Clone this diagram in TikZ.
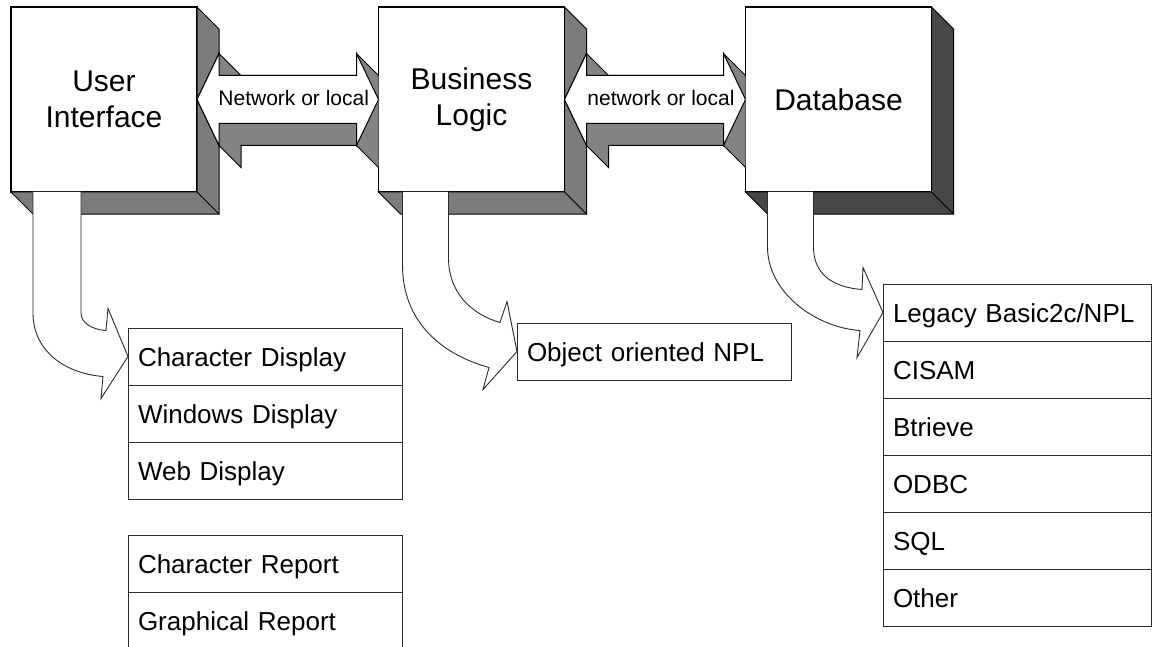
\documentclass[tikz,border=0pt]{standalone}
\usepackage{fontspec}
\setmainfont{Liberation Sans}
\usetikzlibrary{calc,positioning}
\definecolor{shade}{HTML}{7C7C7C}
\definecolor{darkshade}{HTML}{474747}
\definecolor{linkshade}{HTML}{838383}
\definecolor{ink}{HTML}{2B2B2B}
\tikzset{
    every picture/.style={line join=miter},
    tierbox/.style={draw=black,fill=white,line width=1.1pt,
      minimum width=186pt,minimum height=185pt,inner sep=0pt,outer sep=0pt,
      align=center,font=\fontsize{30}{36}\selectfont},
    depth/.style={draw=black,fill=shade,line width=1pt},
    linkface/.style={draw=black,fill=white,line width=1pt},
    linklabel/.style={inner sep=0pt,font=\fontsize{21}{24}\selectfont},
    listrow/.style={draw=ink,fill=white,line width=0.9pt,text width=#1,
      inner xsep=10pt,inner ysep=0pt,outer sep=0pt,minimum height=57pt,
      text height=19pt,text depth=0pt,align=left,
      font=\fontsize{26}{30}\selectfont},
    listrow/.default=254pt,
    bentarrow/.style={draw=ink,fill=white,line width=0.9pt}
}
\begin{document}
\begin{tikzpicture}[x=1pt,y=-1pt]
  \useasboundingbox (0,0) rectangle (1153,647);
  % the three tiers, each with its block shadow
  \node[tierbox] (ui) at (104,99.5) {User\\Interface};
  \node[tierbox] (bl) at (471.5,99.5) {Business\\Logic};
  \node[tierbox] (db) at (838.5,99.5) {Database};
  \foreach \n/\c in {ui/shade,bl/shade,db/darkshade}{
    \filldraw[depth,fill=\c] (\n.north east) -- ++(22,22)
      -- ([shift={(22,22)}]\n.south east) -- ([shift={(22,22)}]\n.south west)
      -- (\n.south west) -- (\n.south east) -- cycle;
    \draw[line width=1pt] (\n.south east) -- ++(22,22);}

  % two-way links, cut off where the next tier starts
  \foreach \a/\b/\t in {ui/bl/Network or local,bl/db/network or local}{
    \begin{scope}
      \clip ([xshift=-1pt]\a.north east) rectangle (\b.south west);
      \filldraw[depth,fill=linkshade] let \p1=(\a.east), \p2=(\b.west) in
        (\x1,\y1) -- (\x1+22pt,\y1+46pt) -- (\x1+44pt,\y1+24pt)
        -- (\x2-22pt,\y1+24pt) -- (\x2-22pt,\y1+46pt) -- (\x2,\y1+24pt)
        -- (\x2+22pt,\y1-22pt) -- (\x2,\y1-68pt) -- (\x2-22pt,\y1-46pt)
        -- (\x1+44pt,\y1-46pt) -- (\x1+44pt,\y1-68pt) -- (\x1+22pt,\y1-46pt) -- cycle;
      \filldraw[linkface] let \p1=(\a.east), \p2=(\b.west) in
        (\x1,\y1) -- (\x1+22pt,\y1+46pt) -- (\x1+22pt,\y1+24pt)
        -- (\x2-22pt,\y1+24pt) -- (\x2-22pt,\y1+46pt) -- (\x2,\y1)
        -- (\x2-22pt,\y1-46pt) -- (\x2-22pt,\y1-24pt)
        -- (\x1+22pt,\y1-24pt) -- (\x1+22pt,\y1-46pt) -- cycle;
    \end{scope}
    \node[linklabel] at ($(\a.east)!0.5!(\b.west)+(6,-2)$) {\t};}

  % what each tier can be
  \foreach \t [count=\i] in {Character Display,Windows Display,Web Display}
    \node[listrow] (ui\i) at (265,299.5+57*\i) {\t};
  \foreach \t [count=\i] in {Character Report,Graphical Report}
    \node[listrow] (rep\i) at (265,506.5+57*\i) {\t};
  \node[listrow] (bl1) at (654,351.5) {Object oriented NPL};
  \foreach \t [count=\i] in {Legacy Basic2c/NPL,CISAM,Btrieve,ODBC,SQL,Other}
    \node[listrow=248pt] (db\i) at (1017,255.5+57*\i) {\t};

  % bent arrows from each tier down to its list
  \filldraw[bentarrow] ([xshift=22pt]ui.south west) -- ++(0,121)
    .. controls +(0,38) and +(-38,-3) .. ($(ui1.west)+(-25,20)$)
    -- ($(ui1.west)+(-27,42)$) -- (ui1.west) -- ($(ui1.west)+(-20,-48)$)
    -- ($(ui1.west)+(-22,-26)$)
    .. controls +(-14,-1) and +(0,10) .. ($(ui.south west)+(70,121)$)
    -- ([xshift=70pt]ui.south west);
  \filldraw[bentarrow] ([xshift=24pt]bl.south west) -- ++(0,73)
    .. controls +(0,55) and +(-50,-14) .. ($(bl1.west)+(-28,16)$)
    -- ($(bl1.west)+(-34,38)$) -- (bl1.west) -- ($(bl1.west)+(-10,-50)$)
    -- ($(bl1.west)+(-17,-29)$)
    .. controls +(-28,-8) and +(0,35) .. ($(bl.south west)+(70,66)$)
    -- ([xshift=70pt]bl.south west);
  \filldraw[bentarrow] ([xshift=22pt]db.south west) -- ++(0,55)
    .. controls +(0,45) and +(-45,-3) .. ($(db1.west)+(-23,18)$)
    -- ($(db1.west)+(-26,45)$) -- (db1.west) -- ($(db1.west)+(-20,-45)$)
    -- ($(db1.west)+(-21,-23)$)
    .. controls +(-28,-2) and +(0,28) .. ($(db.south west)+(68,55)$)
    -- ([xshift=68pt]db.south west);
\end{tikzpicture}
\end{document}
